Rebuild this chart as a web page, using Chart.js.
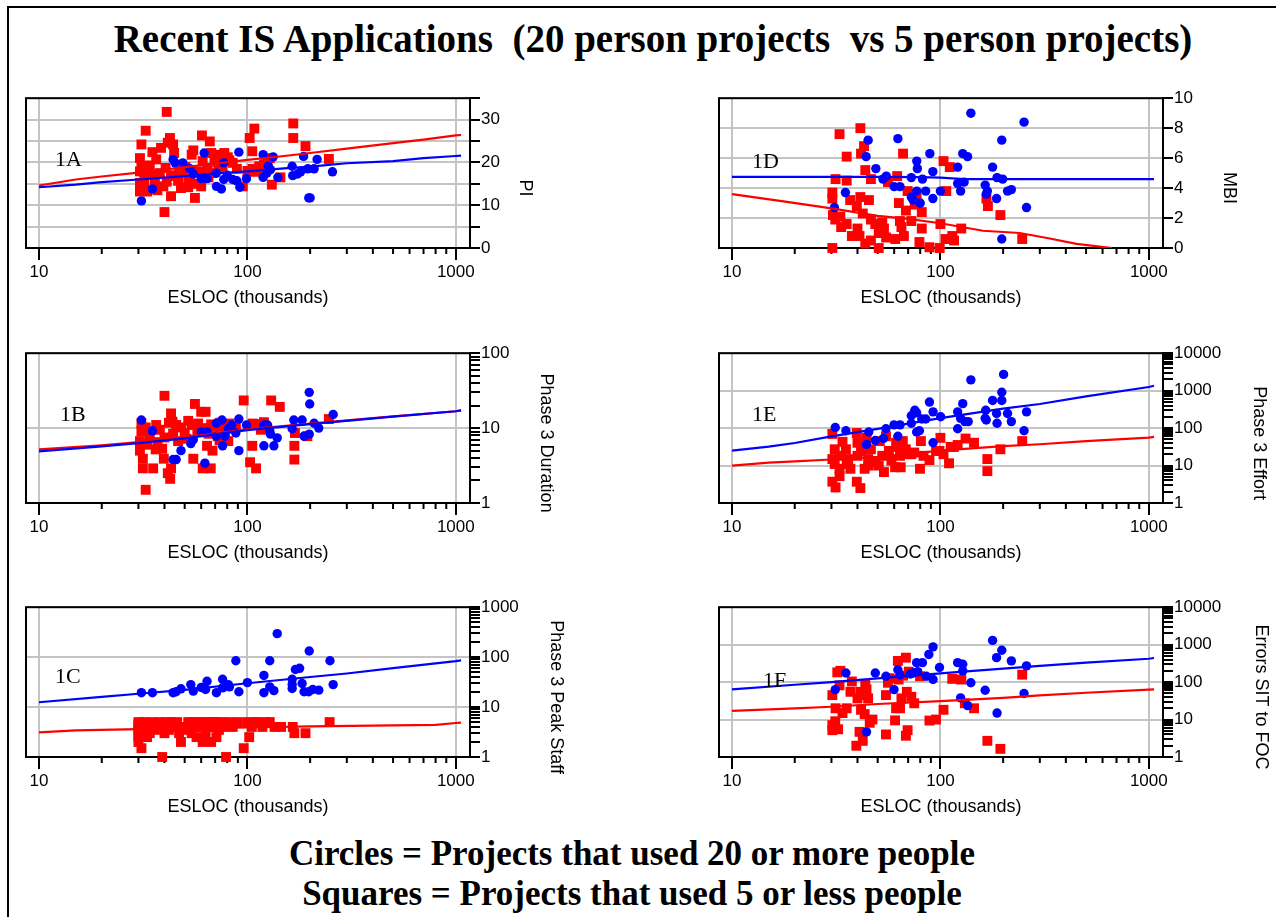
<!DOCTYPE html>
<html>
<head>
<meta charset="utf-8">
<script src="https://cdn.jsdelivr.net/npm/chart.js@4.4.1/dist/chart.umd.min.js"></script>
<style>
  body { margin: 0; background: #fff; width: 1276px; height: 917px; overflow: hidden; position: relative; font-family: "Liberation Serif", "Times New Roman", serif; }
  #border { position: absolute; left: 7px; top: 6px; width: 1300px; height: 1000px; border: 2px solid #000; }
  .head { position: absolute; left: 0; text-align: center; font-weight: bold; white-space: pre; color: #000; }
  canvas { position: absolute; }
</style>
</head>
<body>
<div id="border"></div>
<div class="head" style="top:19px; width:1306px; font-size:39px; line-height:39px;">Recent IS Applications  (20 person projects  vs 5 person projects)</div>
<div class="head" style="top:834px; width:1264px; font-size:35px; line-height:40px;">Circles = Projects that used 20 or more people<br>Squares = Projects that used 5 or less people</div>
<script>
// x axis (ESLOC, thousands) shared by all six panels
const xMajor = [10, 100, 1000];
const xMinor = [20, 30, 40, 50, 60, 70, 80, 90, 200, 300, 400, 500, 600, 700, 800, 900];

// 1A  PI
const piBlue = [[31,11],[35,13.8],[44,20.7],[45,19.9],[49,19.9],[53,18.5],[55,17.3],[60,16.2],[62,22.2],[64,16.2],[71,17.5],[71,14.4],[75,13.8],[77,19.9],[77,16],[80,17],[85,16],[89,15.7],[91,22.4],[92,14.2],[99,16.2],[119,21.8],[119,16.5],[124,17.5],[126,19.1],[129,18.3],[133,21.3],[140,16.5],[164,19.1],[165,16.9],[174,17.3],[180,17.8],[186,21.4],[195,18.5],[197,11.7],[200,11.7],[209,18.5],[216,20.7],[256,17.8]];
const piRed = [[41,31.8],[32.5,27.4],[31,24.2],[30.5,21],[30.5,17.9],[30.5,15.2],[30.5,13.2],[32,16.5],[33,13.2],[34,19.3],[35,22.4],[36.5,20.7],[35,17.1],[38,17.5],[38.5,23.4],[39.5,14.4],[40,8.4],[40.5,18.7],[41.5,24.6],[42.5,25.7],[43,12.1],[44,24.2],[44.5,22.2],[45,16.8],[46.5,15.7],[47,17.9],[49,17.9],[50.5,18.9],[52,14.2],[54,21.8],[55,22.8],[53,16.2],[56,11.7],[58,17.9],[60,14.4],[60.5,26.3],[61,20.3],[63.5,17],[64.5,18.7],[66,24.9],[67,22.2],[69.5,20.7],[70.5,21.8],[73,18.9],[75,21.2],[77.5,22.2],[80.5,21.2],[85,19.9],[89,18.5],[95,14.4],[102.5,25.7],[108,27.9],[105.5,22.6],[106,18.5],[109,17.8],[114,19.1],[125,20.3],[131,14.8],[144,16.5],[166,29.1],[166,25.7],[190,23.8],[246,20.8],[31,19],[32,14.5],[33,18],[36,15],[37,13.5],[41,15.5],[43,17],[48,14],[52,16],[57,15],[65,16.5],[68,17.5],[72,20],[76,19],[82,20.5],[100,18],[112,18.5],[120,19.5],[128,21]];
const piBlueFit = [[10,14.2],[15,14.8],[20,15.4],[30,16],[50,16.8],[70,17.4],[100,17.9],[150,18.6],[200,19],[300,19.8],[500,20.3],[700,21],[1000,21.5],[1060,21.6]];
const piRedFit = [[10,14.6],[15,16],[20,16.7],[30,17.6],[50,18.9],[70,19.7],[100,20.6],[150,21.5],[200,22.2],[300,23.2],[500,24.5],[700,25.3],[1000,26.3],[1060,26.4]];

// 1B  Phase 3 Duration
const durBlue = [[31,12.8],[35,9.2],[44,3.8],[45.5,3.8],[48,5],[53.5,6.2],[55,7],[60,8.9],[62.5,3.4],[64,8.9],[71,7.8],[71,11.6],[75.5,12.8],[76,5.8],[78,7.8],[81,9.8],[84,11],[88,8.6],[91,13.2],[91,5],[99,11],[120,11],[120,5.8],[125,11],[128,9.1],[129,8.3],[134,5.8],[139,7.4],[164,9.8],[167,12.8],[183,12.8],[187,7.8],[198,30],[199,21],[198,8.3],[209,11.6],[220,10],[258,15.2]];
const durRed = [[40,27],[32.5,1.5],[31,11.6],[31,9],[30.5,6.7],[30.5,5],[31.5,3.9],[31.5,2.9],[35.3,2.9],[36.3,5.2],[39.7,3.9],[41.5,2.5],[43,2.9],[42.6,2.1],[43,15.7],[43.7,12.2],[45.5,11],[46.5,6.7],[50,8.6],[52,12.5],[55,3.9],[56,21],[57.5,9.2],[60,16.5],[63,16.5],[61,2.9],[66.7,2.9],[64,5.8],[68,5],[72,7.8],[73.5,6.9],[81,6.7],[96,23.4],[103,3.5],[105.5,5.8],[110,2.9],[114,11.3],[116,9.5],[130,23.4],[143,19.2],[168,5.8],[168,3.8],[169,8.6],[194,7.8],[246,13.2],[32.5,10.2],[34,8],[36.5,11],[38,9.5],[40,7.5],[42,11.8],[44,8.4],[48,10.2],[51,7.2],[54,11],[58,11.5],[62,10],[65,8.4],[67,11.2],[70,10.5],[74,11.8],[78,9],[82,11.5],[88,10.5],[106,11.5],[120,12],[33,6],[37,6.5],[39,5.3]];
const durBlueFit = [[10,4.9],[20,5.7],[30,6.3],[50,7.3],[100,9.4],[200,11.3],[500,14.2],[1000,16.8],[1060,17.2]];
const durRedFit = [[10,5.2],[20,5.9],[30,6.5],[50,7.5],[100,9.6],[200,11.5],[500,14.3],[1000,16.8],[1060,17.2]];

// 1C  Phase 3 Peak Staff
const staffBlue = [[31,19.4],[35,19.4],[44,19.4],[45.5,20.3],[48,23.2],[53.5,28.2],[55,20.9],[60,24.7],[63,22.5],[64,32.8],[71,19.4],[76,36],[76,24.3],[78,27.5],[81,28.2],[82,25.4],[88,84.8],[91,20.3],[100,30.9],[120,43],[120,19.4],[128,84.8],[128,25.4],[134,21.3],[139,295],[164,28.2],[164,36],[164,23.5],[170,56.5],[178,59.7],[183,29.6],[187,20.3],[197,20.3],[198,133],[206,22.5],[220,21.8],[249,84.8],[258,28.2]];
const staffRed = [[30,5],[30,4.5],[30,4],[30,3.5],[30,3],[30,2.5],[30,2],[31,1.5],[32,5],[32,3.5],[33,4],[33,2.5],[34,3],[35,5],[35,4],[36,3.5],[37,4.5],[38,5],[39,1],[40,4],[40,3],[41,5],[42,3.5],[43,5],[44,4],[45,4.5],[46,5],[47,3],[48,2],[48,4],[50,3.5],[52,5],[53,4],[54,3],[55,5],[56,4],[57,2.5],[58,5],[60,4],[61,2],[62,5],[63,3],[64,4.5],[65,5],[66,4],[67,2],[68,5],[70,4],[71,2.5],[72,5],[73,3.5],[75,5],[77,4],[79,1],[80,4.5],[82,5],[85,4],[90,5],[96,1.5],[100,5],[102,2.5],[105,4],[108,5],[112,5],[118,4],[122,5],[128,5],[135,4],[145,4],[165,4],[168,3],[190,3],[248,5]];
const staffBlueFit = [[10,12.5],[20,16],[30,18.5],[50,22],[100,30],[200,40],[300,47],[500,60],[1000,83],[1060,86]];
const staffRedFit = [[10,3.1],[15,3.4],[30,3.6],[50,3.7],[100,3.9],[200,4.1],[500,4.3],[800,4.4],[1000,4.8],[1060,4.9]];

// 1D  MBI
const mbiBlue = [[31,2.7],[35,3.7],[44,6.1],[45,7.2],[49,5.3],[53,4.6],[55,4.8],[60,4.1],[62.5,7.3],[64,4.1],[72.5,4.7],[77,3.8],[77,5.8],[77.5,5.3],[72.5,3.4],[74,3.2],[80,3],[82,4.6],[85,3.8],[89,6.3],[92,5.1],[92,3.3],[100,3.8],[121,5.4],[121,4.3],[125,3.8],[128,6.3],[130,4.4],[135,6.1],[140,9],[164,4.2],[166,3.6],[168,3.8],[178,5.4],[186,3.3],[187,4.7],[197,7.2],[199,4.6],[197,0.6],[210,3.8],[219,3.9],[252,8.4],[259,2.7]];
const mbiRed = [[41.3,8],[32.8,7.6],[43,6.8],[41.6,6.3],[35.5,6.1],[43.6,5.2],[31.4,4.6],[35.5,4.5],[46.4,4.6],[30.3,3.7],[30.3,3.3],[36.9,3.2],[41.3,3.4],[45.4,3.2],[39.7,2.8],[30.5,2.2],[31.3,1.9],[33.1,2.1],[33.4,1.4],[35.5,1.6],[37.6,0.8],[40,1.3],[40.9,0.8],[42.4,2.3],[43.6,0.3],[46.4,1.9],[46.4,0.5],[48.7,1.6],[50.6,1],[50.6,0],[52.6,1.7],[53.6,1.3],[54.9,0.7],[56,4.4],[60.7,0.6],[62,4.8],[63.2,3],[63.9,1.8],[65,1.4],[66.2,6.3],[66.8,0.8],[68.3,2.5],[69.6,3.8],[72.5,1.8],[75.4,2.9],[76.9,3.6],[79.3,0.4],[81.4,1.3],[81.4,2.4],[88.6,0.05],[100,1.6],[99.2,0],[103.5,5.8],[106.7,3.8],[105.9,0.6],[110.9,5.4],[116.3,0.5],[114,0.8],[125.9,1.3],[166.3,3.3],[169,2.8],[194,2.2],[247,0.6],[30.3,0]];
const mbiBlueFit = [[10,4.75],[50,4.75],[80,4.73],[100,4.7],[130,4.6],[200,4.6],[1060,4.6]];
const mbiRedFit = [[10,3.6],[18,3.1],[30,2.65],[50,2.15],[70,1.95],[100,1.65],[160,1.15],[240,1],[330,0.65],[450,0.28],[665,0]];

// 1E  Phase 3 Effort
const effortBlue = [[31.3,104],[35.2,85],[44.2,36.7],[45.3,78.6],[48.7,46.6],[53.3,52.7],[54.8,96],[59.9,122],[62.5,60.7],[64,122],[72.5,214],[72.5,135],[75.4,300],[76.9,78.6],[76.9,257],[79.3,85],[81.4,175],[85,175],[88.6,496],[92.2,272],[92.2,40.6],[100.3,201],[121,272],[121,96],[125,182],[128,449],[131,149],[136,149],[140,1940],[164,182],[165,300],[166,165],[178,548],[187,135],[197,905],[197,548],[201,2720],[186,245],[210,245],[219,149],[252,85],[259,272]];
const effortRed = [[30.3,69.7],[30.3,14.9],[30.3,3.7],[31.4,2.6],[31.1,27.2],[31.1,11],[32.8,8.2],[32.8,5.2],[33.4,18.2],[33.9,43],[35.2,27.2],[35.5,11],[36.1,14.9],[37,8.2],[39.7,3.7],[39.7,74],[40,40.6],[40,18.2],[41.3,2.5],[41.6,24.6],[43.3,8.2],[44.2,55],[45,14.9],[45.3,10],[46.4,27.2],[48.7,12.2],[50.6,10],[51.2,45],[52.6,18.2],[53.6,6.7],[54.8,60.7],[56.6,24.6],[58.2,13.5],[60.6,9],[61.3,40.6],[62.3,31.4],[64,18.2],[64.5,9],[66,45],[68.2,27.2],[70,20.1],[72.5,20.1],[74.9,22.3],[79.8,8.2],[80.6,45],[83,18.2],[88.6,14],[95.3,24.6],[99,24.6],[100,55],[103.5,20.1],[110,11.5],[112,31.4],[116,31.4],[121,35.4],[132,52.7],[145,40.6],[168,14.9],[168,7.1],[194,27.2],[247,45]];
const effortBlueFit = [[10,25],[15,32],[20,40],[30,60],[50,95],[100,185],[200,330],[300,440],[500,700],[1000,1250],[1060,1350]];
const effortRedFit = [[10,10],[15,12],[20,13],[30,14.5],[50,17],[100,25],[200,33],[300,37],[500,45],[1000,56],[1060,58]];

// 1F  Errors SIT to FOC
const errBlue = [[31.3,63],[35.2,175],[44.2,4.7],[48.7,175],[54.8,143],[59.9,63],[62.5,214],[64,155],[71.7,165],[74.1,175],[76.9,331],[77.8,190],[82,331],[85.6,143],[88,548],[92.2,870],[92.2,117],[99,245],[121,331],[128,300],[128,200],[125,38],[135,23.6],[140,96],[164,60.5],[178,1297],[186,449],[187,14.9],[197,708],[219,368],[252,49.5],[259,272]];
const errRed = [[30.3,44.9],[30.3,7.1],[30.3,5.2],[31.3,9],[31.4,20],[32,182],[32.3,5.5],[33.1,200],[32.8,82],[33.9,14.9],[35.5,20],[37.6,104],[37,55],[39.5,2],[40,36.7],[40.9,4.7],[41.3,55],[41.6,18.2],[42.4,45],[42.4,2.7],[43.3,14],[43.6,85],[44.2,64],[45,36.7],[45.8,8.2],[47.2,10],[54.8,45],[54.8,4],[56,96],[57,127],[60.6,9.5],[61.3,20],[62.5,367],[63,117],[64,20],[65,36.7],[66.2,149],[68.3,449],[68.3,3.7],[69,55],[69.6,5.2],[70.5,190],[72.5,40.6],[74.9,27.2],[79.8,143],[88.6,9.4],[95.3,10],[103.5,18.2],[114,122],[126,117],[131,27.2],[145,20],[168,2.7],[194,1.65],[247,158]];
const errBlueFit = [[10,64],[20,85],[30,100],[50,125],[100,170],[200,230],[300,270],[500,330],[1000,420],[1060,440]];
const errRedFit = [[10,17],[20,20],[30,22],[50,26],[100,31],[200,38],[300,44],[500,52],[1000,63],[1060,64]];

// y tick values
const piTicks = [0, 5, 10, 15, 20, 25, 30, 35];
const piLabels = [0, 10, 20, 30];
const mbiTicks = [0, 2, 4, 6, 8, 10];

function logTicks(max) {
  const out = [];
  for (let d = 1; d < max; d *= 10) {
    for (let k = 1; k < 10; k++) out.push(k * d);
  }
  out.push(max);
  return out;
}
function decades(max) {
  const out = [];
  for (let d = 1; d <= max; d *= 10) out.push(d);
  return out;
}

const GRID = '#c4c4c4';
const CLEAR = 'rgba(0,0,0,0)';
const BLUE = '#0000ff';
const RED = '#ff0000';
const xTicks = xMajor.concat(xMinor).sort((a, b) => a - b);

Chart.defaults.font.family = '"Liberation Sans", Arial, sans-serif';
Chart.defaults.font.size = 17;
Chart.defaults.color = '#000';

const panels = [
  { tag: '1A', left: 26, top: 97, type: 'linear', min: 0, max: 35, ticks: piTicks, labels: piLabels, grid: piTicks, title: 'PI', titleDx: 55,
    blue: piBlue, red: piRed, blueFit: piBlueFit, redFit: piRedFit, tagX: 55, tagY: 160 },
  { tag: '1B', left: 26, top: 352, type: 'logarithmic', min: 1, max: 100, ticks: logTicks(100), labels: decades(100), grid: decades(100), title: 'Phase 3 Duration', titleDx: 76,
    blue: durBlue, red: durRed, blueFit: durBlueFit, redFit: durRedFit, tagX: 60, tagY: 415 },
  { tag: '1C', left: 26, top: 606, type: 'logarithmic', min: 1, max: 1000, ticks: logTicks(1000), labels: decades(1000), grid: decades(1000), title: 'Phase 3 Peak Staff', titleDx: 86,
    blue: staffBlue, red: staffRed, blueFit: staffBlueFit, redFit: staffRedFit, tagX: 55, tagY: 677 },
  { tag: '1D', left: 719, top: 97, type: 'linear', min: 0, max: 10, ticks: mbiTicks, labels: mbiTicks, grid: mbiTicks, title: 'MBI', titleDx: 66,
    blue: mbiBlue, red: mbiRed, blueFit: mbiBlueFit, redFit: mbiRedFit, tagX: 752, tagY: 162 },
  { tag: '1E', left: 719, top: 352, type: 'logarithmic', min: 1, max: 10000, ticks: logTicks(10000), labels: decades(10000), grid: decades(10000), title: 'Phase 3 Effort', titleDx: 96,
    blue: effortBlue, red: effortRed, blueFit: effortBlueFit, redFit: effortRedFit, tagX: 752, tagY: 415 },
  { tag: '1F', left: 719, top: 606, type: 'logarithmic', min: 1, max: 10000, ticks: logTicks(10000), labels: decades(10000), grid: decades(10000), title: 'Errors SIT to FOC', titleDx: 98,
    blue: errBlue, red: errRed, blueFit: errBlueFit, redFit: errRedFit, tagX: 763, tagY: 681 }
];

const PAD_L = 20, PAD_T = 10, AREA_W = 444, AREA_H = 151, Y_W = 110, X_H = 61;

const pts = arr => arr.map(p => ({ x: p[0], y: p[1] }));

// frame, minor x ticks, rotated y title and panel tag
const panelDecor = {
  id: 'panelDecor',
  beforeDatasetsDraw(chart) {
    const a = chart.chartArea, ctx = chart.ctx, xs = chart.scales.x;
    ctx.save();
    ctx.strokeStyle = '#000';
    ctx.lineWidth = 2;
    ctx.strokeRect(a.left, a.top, a.right - a.left, a.bottom - a.top);
    ctx.beginPath();
    xMinor.forEach(v => {
      const px = xs.getPixelForValue(v);
      ctx.moveTo(px, a.bottom);
      ctx.lineTo(px, a.bottom + 6);
    });
    ctx.stroke();
    ctx.restore();
  },
  afterDraw(chart) {
    const p = chart.options.plugins.panelDecor;
    const a = chart.chartArea, ctx = chart.ctx;
    ctx.save();
    ctx.fillStyle = '#000';
    ctx.font = '18px "Liberation Sans", Arial, sans-serif';
    ctx.textAlign = 'center';
    ctx.textBaseline = 'middle';
    ctx.translate(a.right + p.titleDx, (a.top + a.bottom) / 2 + 15);
    ctx.rotate(Math.PI / 2);
    ctx.fillText(p.title, 0, 0);
    ctx.restore();
    ctx.save();
    ctx.fillStyle = '#000';
    ctx.font = '22px "Liberation Serif", "Times New Roman", serif';
    ctx.textAlign = 'left';
    ctx.textBaseline = 'middle';
    ctx.fillText(p.tag, p.tagX, p.tagY);
    ctx.restore();
  }
};

panels.forEach(p => {
  const cv = document.createElement('canvas');
  const w = PAD_L + AREA_W + Y_W, h = PAD_T + AREA_H + X_H;
  const cl = p.left - PAD_L, ct = p.top - PAD_T;
  cv.width = w; cv.height = h;
  cv.style.left = cl + 'px'; cv.style.top = ct + 'px';
  cv.style.width = w + 'px'; cv.style.height = h + 'px';
  document.body.appendChild(cv);

  new Chart(cv, {
    type: 'scatter',
    data: {
      datasets: [
        { data: pts(p.blueFit), showLine: true, borderColor: BLUE, borderWidth: 2.2, pointRadius: 0, tension: 0 },
        { data: pts(p.redFit), showLine: true, borderColor: RED, borderWidth: 2.2, pointRadius: 0, tension: 0 },
        { data: pts(p.blue), pointStyle: 'circle', pointRadius: 4.7, backgroundColor: BLUE, borderWidth: 0, clip: false },
        { data: pts(p.red), pointStyle: 'rect', pointRadius: 7, backgroundColor: RED, borderWidth: 0, clip: false }
      ]
    },
    options: {
      responsive: false,
      animation: false,
      devicePixelRatio: 1,
      layout: { padding: { left: PAD_L, top: PAD_T, right: 0, bottom: 0 } },
      plugins: {
        legend: { display: false },
        tooltip: { enabled: false },
        panelDecor: { title: p.title, titleDx: p.titleDx, tag: p.tag, tagX: p.tagX - cl, tagY: p.tagY - ct }
      },
      scales: {
        x: {
          type: 'logarithmic', position: 'bottom', min: 8.66, max: 1170,
          afterBuildTicks: s => { s.ticks = xTicks.map(v => ({ value: v })); },
          afterFit: s => { s.height = X_H; },
          ticks: { autoSkip: false, maxRotation: 0, minRotation: 0, padding: 2,
                   callback: v => xMajor.includes(v) ? String(v) : '' },
          grid: { lineWidth: 2, tickLength: 12, tickWidth: 2,
                  color: c => (c.tick && xMajor.includes(c.tick.value)) ? GRID : CLEAR,
                  tickColor: c => (c.tick && xMajor.includes(c.tick.value)) ? '#000' : CLEAR },
          border: { color: '#000', width: 2 },
          title: { display: true, text: 'ESLOC (thousands)', font: { size: 18 }, padding: 0 }
        },
        y: {
          type: p.type, position: 'right', min: p.min, max: p.max,
          afterBuildTicks: s => { s.ticks = p.ticks.map(v => ({ value: v })); },
          afterFit: s => { s.width = Y_W; },
          ticks: { autoSkip: false, padding: 1, callback: v => p.labels.includes(v) ? String(v) : '' },
          grid: { lineWidth: 2, tickLength: 10, tickWidth: 2, tickColor: '#000',
                  color: c => (c.tick && p.grid.includes(c.tick.value)) ? GRID : CLEAR },
          border: { color: '#000', width: 2 }
        }
      }
    },
    plugins: [panelDecor]
  });
});
</script>
</body>
</html>
